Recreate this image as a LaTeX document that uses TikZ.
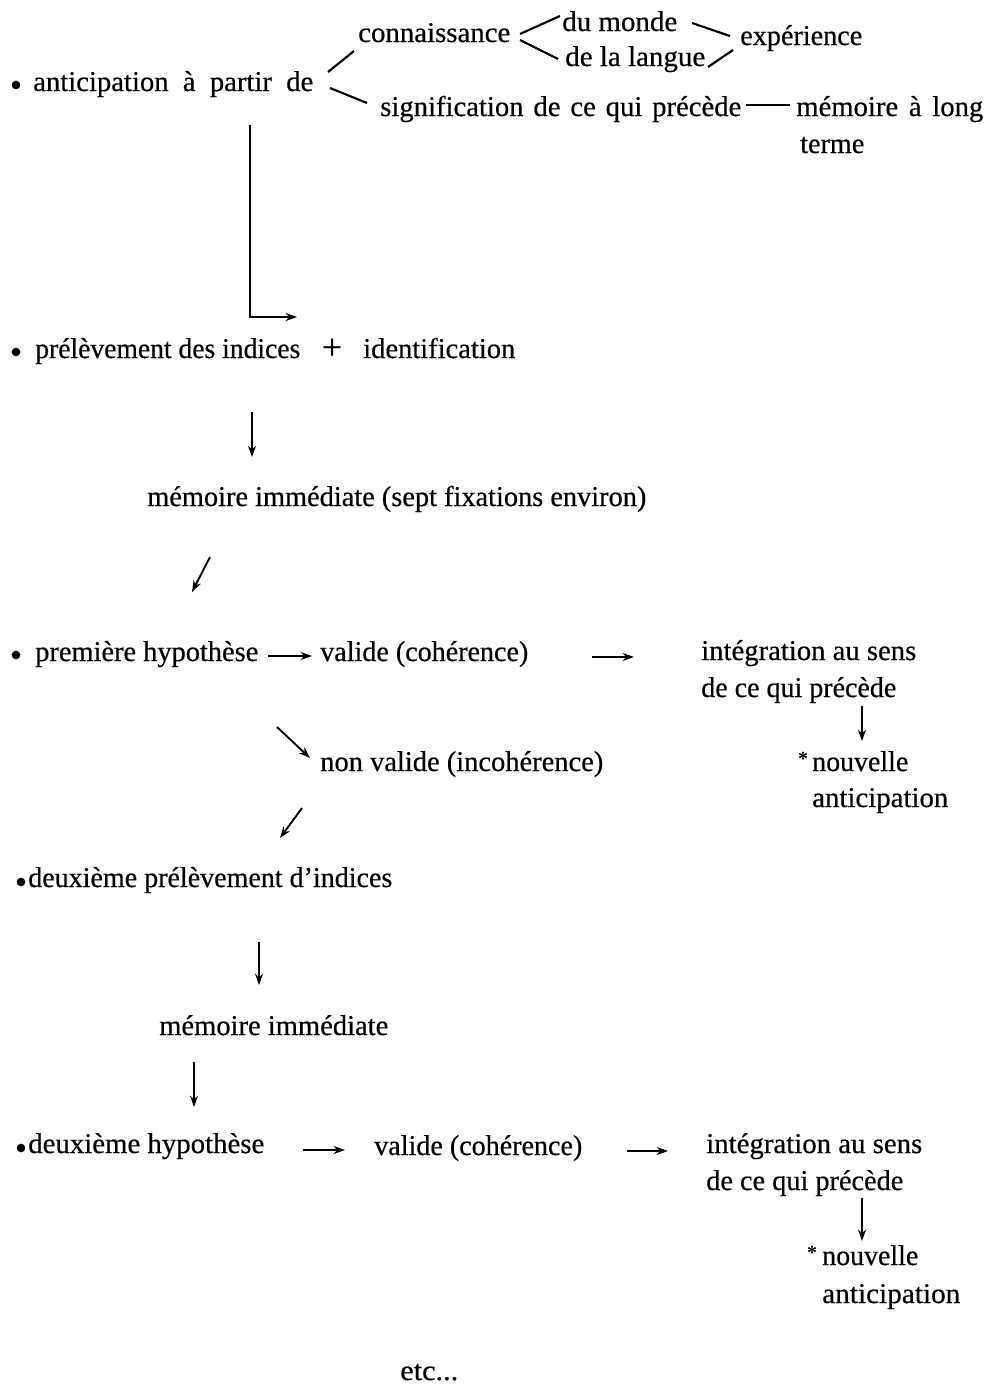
\documentclass[tikz,border=0pt]{standalone}
\usepackage{fontspec}
\usepackage{graphicx}
\setmainfont{Liberation Serif}[UprightFeatures={FakeBold=0.5}]
\usetikzlibrary{arrows.meta}
\newdimen\pxu \pxu=0.75pt
\newcommand{\spreadto}[2]{\hbox to #1\pxu{\spaceskip=0pt plus 1fil\relax #2}}
\newcommand{\fitw}[2]{\resizebox{#1\pxu}{\height}{#2}}
\begin{document}
\begin{tikzpicture}[x=0.75pt,y=-0.75pt,
  txt/.style={anchor=base west,inner sep=0pt,yshift=-6.75pt,font=\fontsize{21.5}{27}\selectfont},
  ln/.style={line width=1.6pt},
  arr/.style={line width=1.4pt,-{Stealth[length=8.5pt,width=6pt]}},
  bul/.style={circle,fill=black,inner sep=0pt,minimum size=6.5pt},
  ast/.style={inner sep=0pt,font=\fontsize{15}{15}\selectfont\bfseries}]
\useasboundingbox (0,0) rectangle (997,1385);
% --- top block
\node[bul] (b1) at (16,85) {};
\node[txt] (antic) at (33,82) {\spreadto{280}{anticipation à partir de}};
\node[txt] (conn) at (358,33) {\fitw{152}{connaissance}};
\node[txt] (monde) at (562,22) {\fitw{115}{du monde}};
\node[txt] (langue) at (565,57) {\fitw{140}{de la langue}};
\node[txt] (exper) at (740,36) {\fitw{122}{expérience}};
\node[txt] (signif) at (380,107) {\spreadto{361}{signification de ce qui précède}};
\node[txt] (memlong) at (796,107) {\spreadto{187}{mémoire à long}};
\node[txt] (terme) at (800,144) {\fitw{64}{terme}};
\coordinate (a1) at (328,72); \coordinate (a2) at (354,51);
\coordinate (a3) at (330,88); \coordinate (a4) at (367,103);
\coordinate (c1) at (520,34); \coordinate (c2) at (560,16);
\coordinate (c3) at (520,40); \coordinate (c4) at (558,59);
\coordinate (m1) at (692,23); \coordinate (m2) at (730,36);
\coordinate (l1) at (708,67); \coordinate (l2) at (733,50);
\coordinate (d1) at (746,105); \coordinate (d2) at (790,105);
\draw[ln] (a1) -- (a2);
\draw[ln] (a3) -- (a4);
\draw[ln] (c1) -- (c2);
\draw[ln] (c3) -- (c4);
\draw[ln] (m1) -- (m2);
\draw[ln] (l1) -- (l2);
\draw[ln] (d1) -- (d2);
% --- elbow
\coordinate (e1) at (250,125); \coordinate (e2) at (250,317); \coordinate (e3) at (297,317);
\draw[arr,line width=1.6pt] (e1) -- (e2) -- (e3);
% --- prélèvement
\node[bul] (b2) at (16,352) {};
\node[txt] (prel) at (35,349) {\fitw{265}{prélèvement des indices}};
\node[inner sep=0pt,font=\fontsize{27}{27}\selectfont] (plus) at (332,349) {+};
\node[txt] (ident) at (363,349) {\fitw{152}{identification}};
\coordinate (p1) at (252,412); \coordinate (p2) at (252,457);
\draw[arr] (p1) -- (p2);
\node[txt] (memimm) at (147,497) {\fitw{499}{mémoire immédiate (sept fixations environ)}};
\coordinate (q1) at (210,557); \coordinate (q2) at (192,592);
\draw[arr] (q1) -- (q2);
% --- première hypothèse
\node[bul] (b3) at (16,655) {};
\node[txt] (hyp1) at (35,652) {\fitw{223}{première hypothèse}};
\coordinate (h1) at (268,656); \coordinate (h2) at (312,656);
\draw[arr] (h1) -- (h2);
\node[txt] (val1) at (320,652) {\fitw{208}{valide (cohérence)}};
\coordinate (v1) at (592,657); \coordinate (v2) at (634,657);
\draw[arr] (v1) -- (v2);
\node[txt] (integ1) at (701,651) {\fitw{215}{intégration au sens}};
\node[txt] (prec1) at (701,688) {\fitw{195}{de ce qui précède}};
\coordinate (i1) at (862,706); \coordinate (i2) at (862,741);
\draw[arr] (i1) -- (i2);
\node[ast] (ast1) at (803,759) {*};
\node[txt] (nouv1) at (812,762) {\fitw{96}{nouvelle}};
\node[txt] (anti1) at (812,798) {\fitw{136}{anticipation}};
\coordinate (n1) at (277,727); \coordinate (n2) at (310,758);
\draw[arr] (n1) -- (n2);
\node[txt] (nonval) at (320,762) {\fitw{283}{non valide (incohérence)}};
\coordinate (o1) at (302,808); \coordinate (o2) at (280,838);
\draw[arr] (o1) -- (o2);
% --- deuxième prélèvement
\node[bul] (b4) at (21,882) {};
\node[txt] (prel2) at (28,878) {\fitw{364}{deuxième prélèvement d’indices}};
\coordinate (r1) at (259,942); \coordinate (r2) at (259,985);
\draw[arr] (r1) -- (r2);
\node[txt] (memimm2) at (159,1026) {\fitw{229}{mémoire immédiate}};
\coordinate (s1) at (194,1062); \coordinate (s2) at (194,1107);
\draw[arr] (s1) -- (s2);
% --- deuxième hypothèse
\node[bul] (b5) at (21,1148) {};
\node[txt] (hyp2) at (28,1144) {\fitw{236}{deuxième hypothèse}};
\coordinate (t1) at (303,1150); \coordinate (t2) at (345,1150);
\draw[arr] (t1) -- (t2);
\node[txt] (val2) at (374,1146) {\fitw{208}{valide (cohérence)}};
\coordinate (u1) at (627,1151); \coordinate (u2) at (668,1151);
\draw[arr] (u1) -- (u2);
\node[txt] (integ2) at (706,1144) {\fitw{216}{intégration au sens}};
\node[txt] (prec2) at (706,1181) {\fitw{197}{de ce qui précède}};
\coordinate (w1) at (862,1198); \coordinate (w2) at (862,1241);
\draw[arr] (w1) -- (w2);
\node[ast] (ast2) at (812,1253) {*};
\node[txt] (nouv2) at (822,1256) {\fitw{96}{nouvelle}};
\node[txt] (anti2) at (822,1294) {\fitw{138}{anticipation}};
\node[txt] (etc) at (400,1371) {\fitw{58}{etc...}};
\end{tikzpicture}
\end{document}
